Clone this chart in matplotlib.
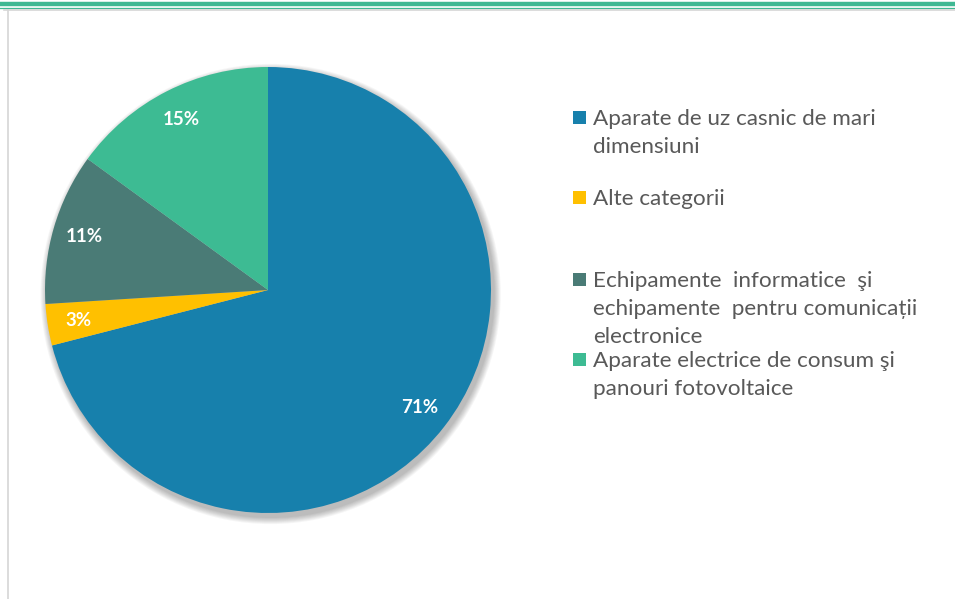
import matplotlib.pyplot as plt
from matplotlib.patches import Circle, Rectangle
from matplotlib.lines import Line2D

categories = [
    "Aparate de uz casnic de mari\ndimensiuni",
    "Alte categorii",
    "Echipamente  informatice  şi\nechipamente  pentru comunicații\nelectronice",
    "Aparate electrice de consum şi\npanouri fotovoltaice",
]
shares = [71, 3, 11, 15]
colors = ["#1780ac", "#ffc000", "#4a7b76", "#3dbb93"]
# baseline (px) of the first line of each legend entry
legend_rows = [125, 205, 287, 367]

W, H = 955, 599
fig = plt.figure(figsize=(W / 100, H / 100), dpi=100)

# page decoration: green bands at the top, grey frame lines
fig.add_artist(Line2D([0, 1], [1 - 4 / H, 1 - 4 / H], color="#3fb893", lw=3.2))
fig.add_artist(Line2D([0, 1], [1 - 8.2 / H, 1 - 8.2 / H], color="#3fb893", lw=0.9))
fig.add_artist(Line2D([4 / W, 1], [1 - 10.3 / H, 1 - 10.3 / H], color="#d6d6d6", lw=1.2))
fig.add_artist(Line2D([7.5 / W, 7.5 / W], [0, 1 - 10 / H], color="#d6d6d6", lw=1.2))

cx, cy, r = 268, 290, 223
ax = fig.add_axes([(cx - r) / W, (H - cy - r) / H, 2 * r / W, 2 * r / H])
ax.axis("off")

# soft shadow under the pie
for i in range(8):
    ax.add_patch(Circle((0.012, -0.018), 1.0 + 0.004 * (8 - i), color="#000000",
                        alpha=0.035, lw=0, zorder=0, clip_on=False))

wedges, texts, autotexts = ax.pie(
    shares, colors=colors, startangle=90, counterclock=False,
    autopct="%d%%", pctdistance=0.86, radius=1,
    wedgeprops=dict(linewidth=0),
    textprops=dict(color="white", fontsize=13.5, fontweight="bold", family="Lato"),
)
ax.set_xlim(-1.0, 1.0)
ax.set_ylim(-1.0, 1.0)

# legend drawn by hand to keep the uneven spacing of the original
for label, col, base in zip(categories, colors, legend_rows):
    fig.add_artist(Rectangle((573 / W, 1 - (base - 1) / H), 13 / W, 13 / H,
                             transform=fig.transFigure, color=col, lw=0))
    for k, line in enumerate(label.split("\n")):
        fig.text(593 / W, 1 - (base + 28 * k) / H, line, ha="left", va="baseline",
                 fontsize=16.2, color="#595959", family="Lato")

fig.savefig("out.png", dpi=100)
